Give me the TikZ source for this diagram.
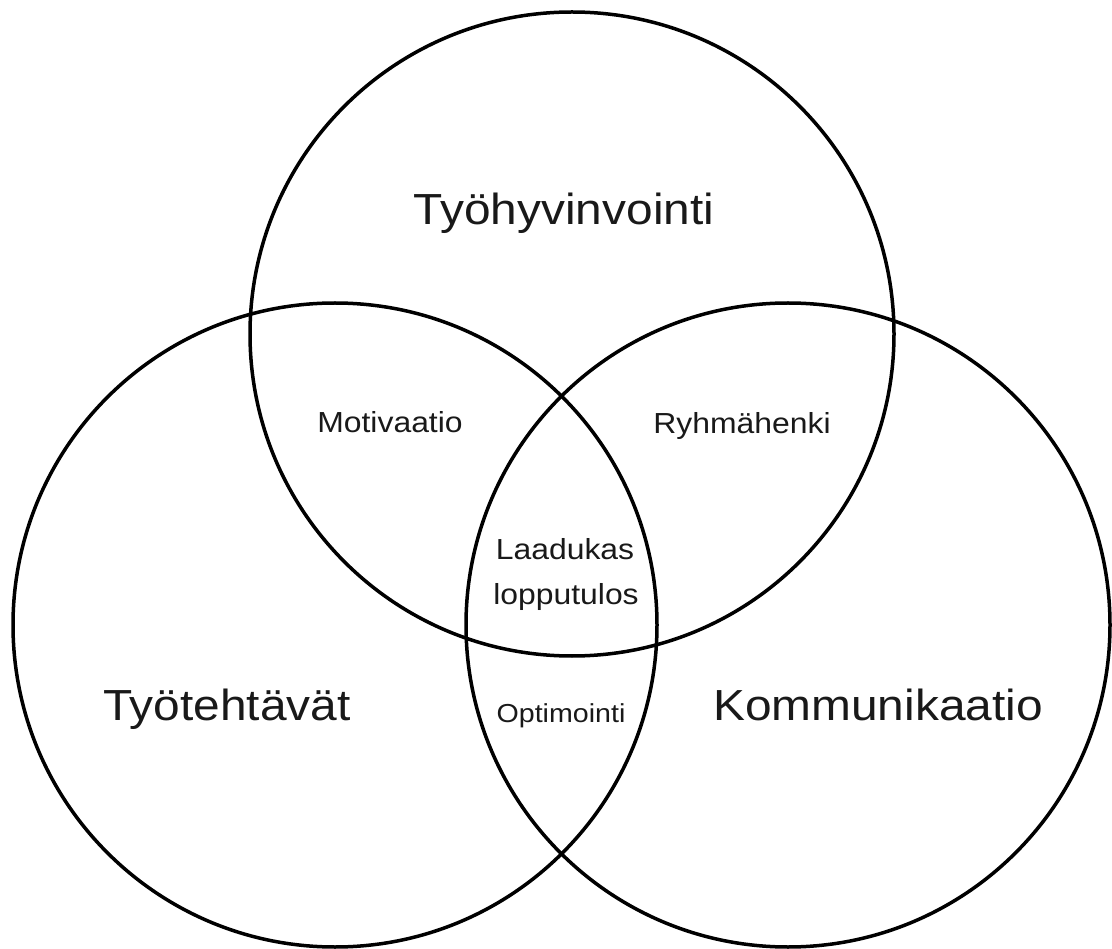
\documentclass[tikz,border=0pt]{standalone}
\usepackage{fontspec}
\setmainfont{Liberation Sans}
\begin{document}
\begin{tikzpicture}[x=1pt,y=-1pt,
  ring/.style={draw=black,line width=3.5pt,circle,minimum size=644pt,inner sep=0pt},
  big/.style={anchor=base,inner sep=0pt,xscale=1.1,font=\fontsize{43.5}{50}\selectfont,text=black!90},
  mid/.style={anchor=base,inner sep=0pt,xscale=1.1,font=\fontsize{29}{34}\selectfont,text=black!90},
  small/.style={anchor=base,inner sep=0pt,xscale=1.1,font=\fontsize{26}{30}\selectfont,text=black!90}]
\useasboundingbox (0,0) rectangle (1112,949);
\node[ring] (ctop) at (572,334) {};
\node[ring] (cleft) at (335,625) {};
\node[ring] (cright) at (788,625) {};
\node[big] (t1) at (564,225) {Työhyvinvointi};
\node[big] (t2) at (227,720) {Työtehtävät};
\node[big] (t3) at (878,720) {Kommunikaatio};
\node[mid] (m1) at (390,433) {Motivaatio};
\node[mid] (m2) at (742,434) {Ryhmähenki};
\node[mid] (l1) at (565,560) {Laadukas};
\node[mid] (l2) at (566,604) {lopputulos};
\node[small] (o1) at (561,722) {Optimointi};
\end{tikzpicture}
\end{document}
